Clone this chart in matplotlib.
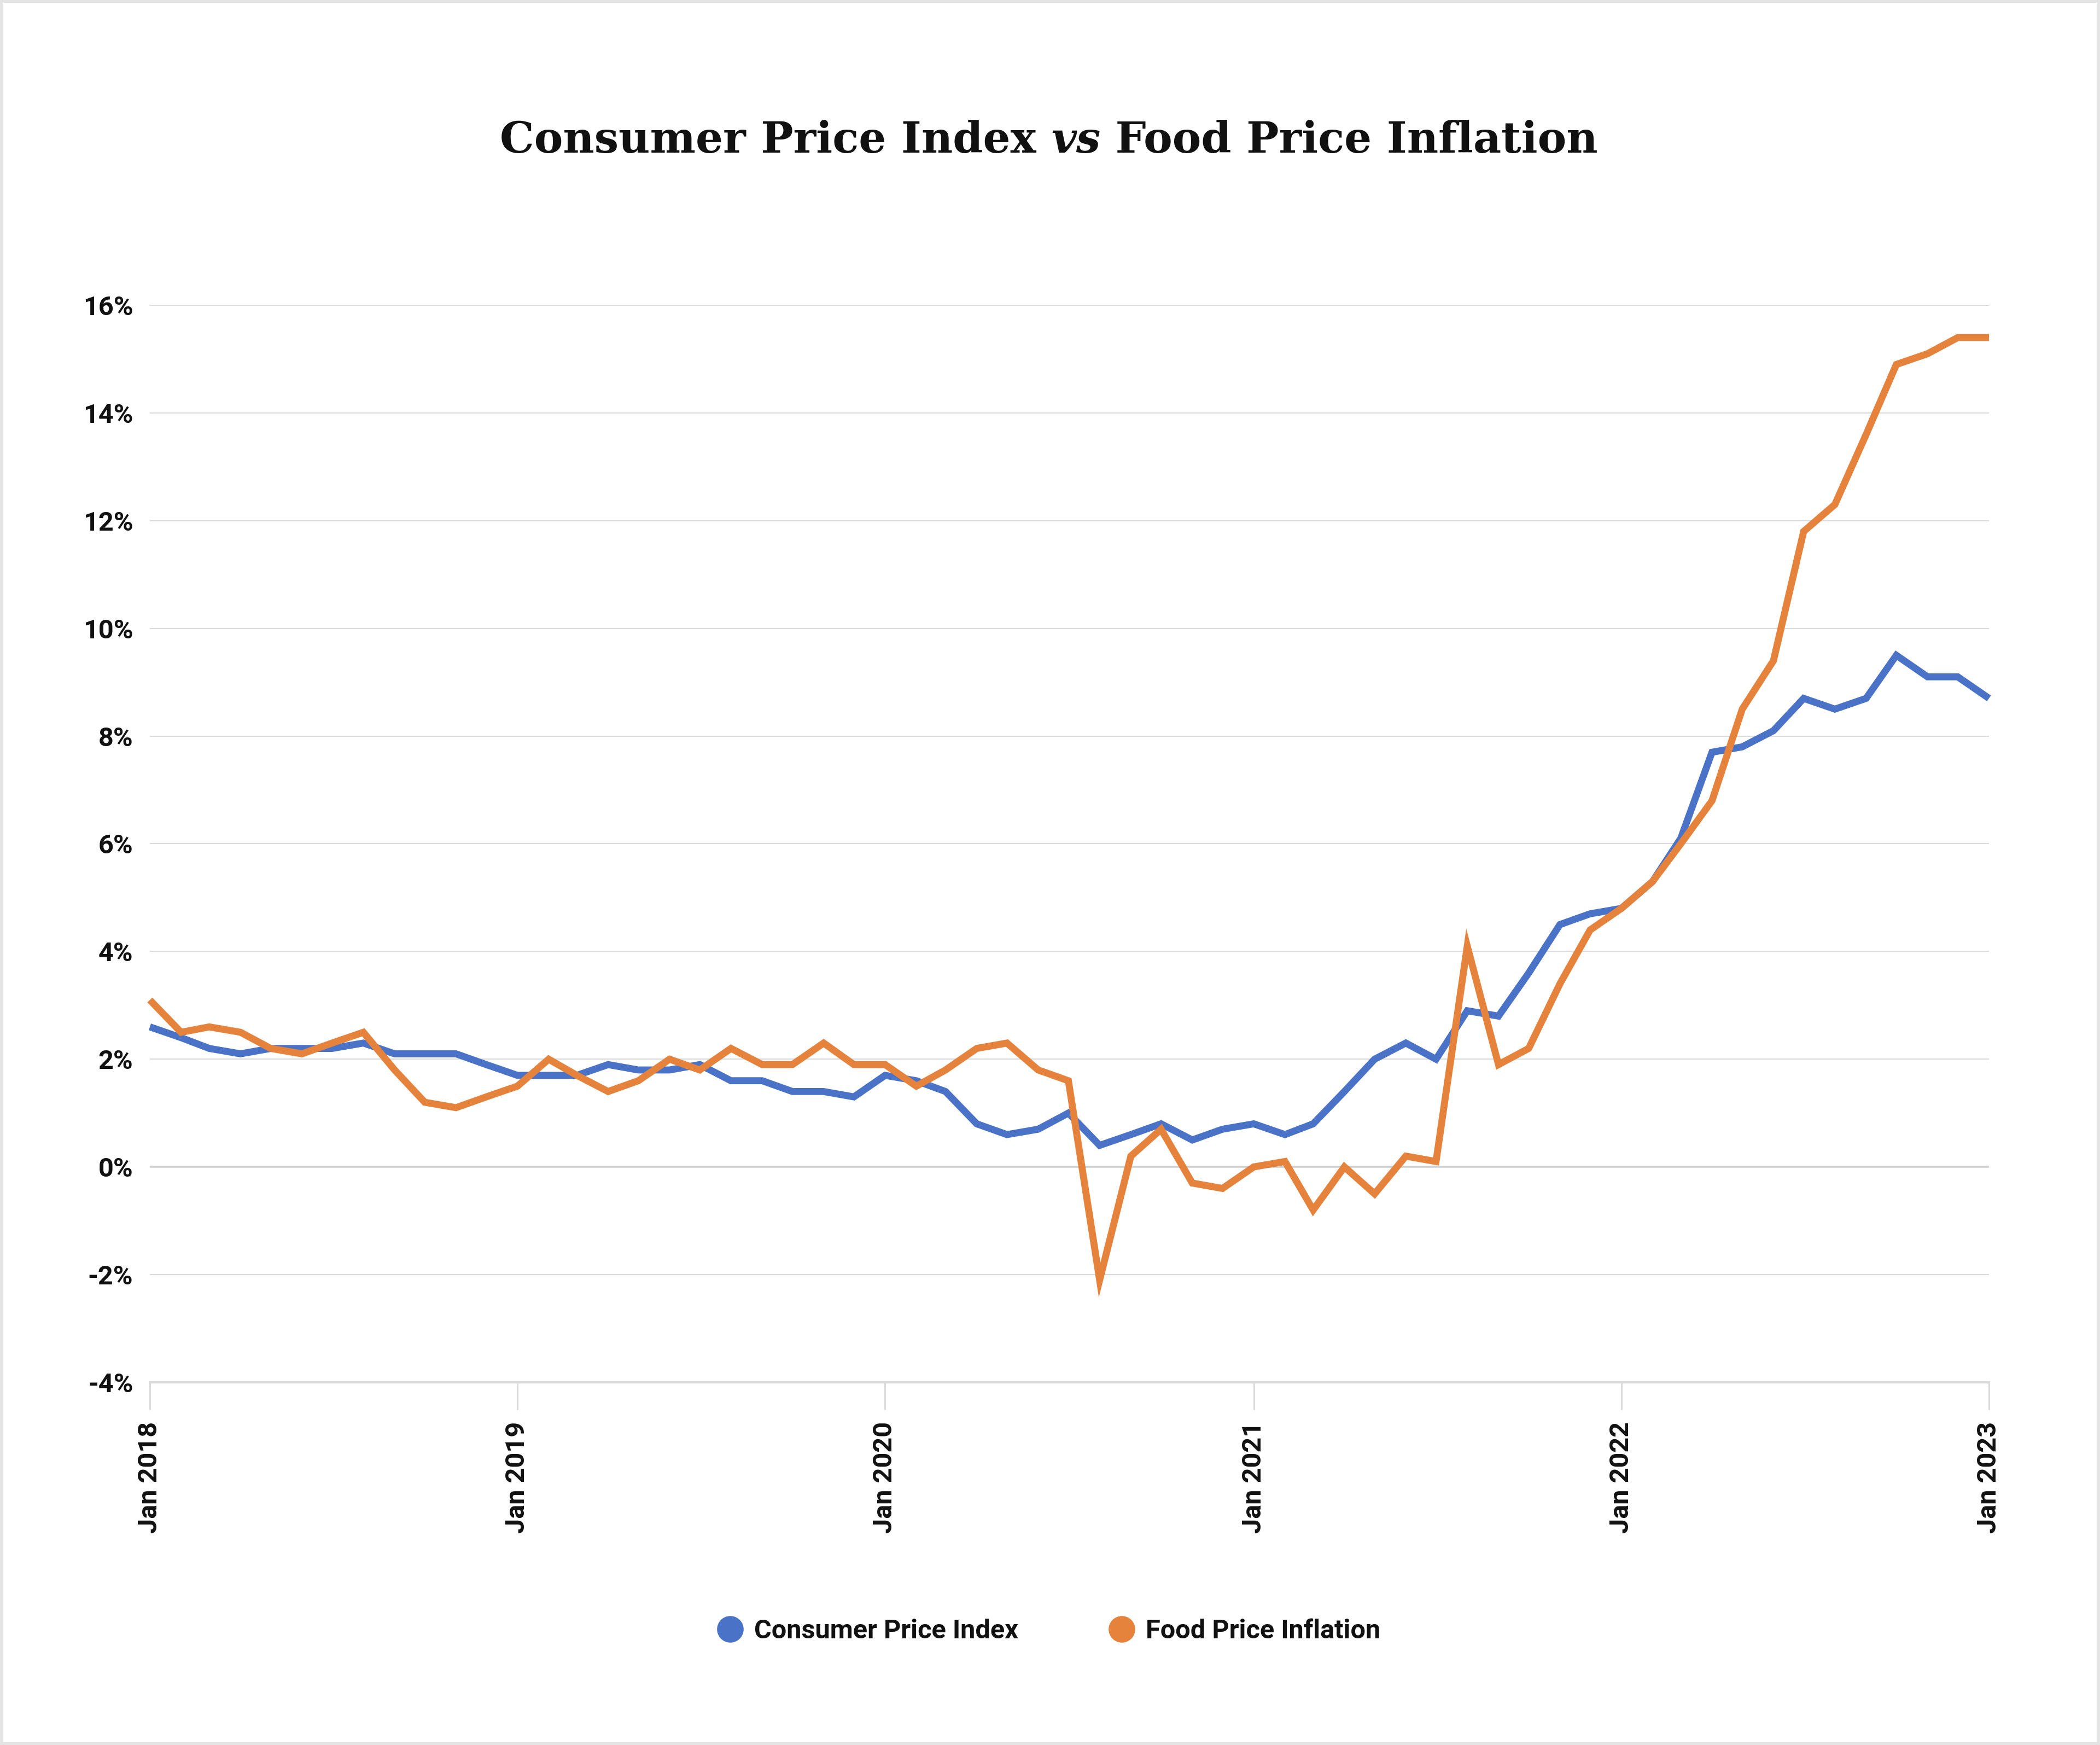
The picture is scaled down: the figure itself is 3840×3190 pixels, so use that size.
import matplotlib
matplotlib.use("Agg")
import matplotlib.pyplot as plt
from matplotlib.lines import Line2D
from matplotlib.patches import Rectangle
import pandas as pd

# ---------------- data ----------------
months = pd.date_range("2018-01-01", "2023-01-01", freq="MS")

cpi = [2.6, 2.4, 2.2, 2.1, 2.2, 2.2, 2.2, 2.3, 2.1, 2.1,
       2.1, 1.9, 1.7, 1.7, 1.7, 1.9, 1.8, 1.8, 1.9, 1.6,
       1.6, 1.4, 1.4, 1.3, 1.7, 1.6, 1.4, 0.8, 0.6, 0.7,
       1.0, 0.4, 0.6, 0.8, 0.5, 0.7, 0.8, 0.6, 0.8, 1.4,
       2.0, 2.3, 2.0, 2.9, 2.8, 3.6, 4.5, 4.7, 4.8, 5.3,
       6.1, 7.7, 7.8, 8.1, 8.7, 8.5, 8.7, 9.5, 9.1, 9.1,
       8.7]

food = [3.1, 2.5, 2.6, 2.5, 2.2, 2.1, 2.3, 2.5, 1.8, 1.2,
        1.1, 1.3, 1.5, 2.0, 1.7, 1.4, 1.6, 2.0, 1.8, 2.2,
        1.9, 1.9, 2.3, 1.9, 1.9, 1.5, 1.8, 2.2, 2.3, 1.8,
        1.6, -2.1, 0.2, 0.7, -0.3, -0.4, 0.0, 0.1, -0.8, 0.0,
        -0.5, 0.2, 0.1, 4.1, 1.9, 2.2, 3.4, 4.4, 4.8, 5.3,
        6.0, 6.8, 8.5, 9.4, 11.8, 12.3, 13.6, 14.9, 15.1, 15.4,
        15.4]

series_names = ["Consumer Price Index", "Food Price Inflation"]
series_colors = ["#4A72C6", "#E5823C"]
y_ticks = [-4, -2, 0, 2, 4, 6, 8, 10, 12, 14, 16]
x_tick_dates = pd.date_range("2018-01-01", "2023-01-01", freq="YS")
x_tick_labels = ["Jan 2018", "Jan 2019", "Jan 2020", "Jan 2021", "Jan 2022", "Jan 2023"]

title_parts = ["Consumer Price Index ", "vs", " Food Price Inflation"]

# ---------------- figure ----------------
W, H, DPI = 3840, 3190, 200
fig = plt.figure(figsize=(W / DPI, H / DPI), dpi=DPI)
fig.patch.set_facecolor("white")

ax = fig.add_axes([274 / W, 1 - 2527 / H, (3637 - 274) / W, (2527 - 558) / H])
ax.set_facecolor("white")

sans = ["Roboto", "DejaVu Sans"]
grid_c = "#dadada"
label_fs = 17.5

for vals, name, col in zip([cpi, food], series_names, series_colors):
    ax.plot(months, vals, color=col, lw=4.6, label=name,
            solid_joinstyle="miter", solid_capstyle="butt", clip_on=False, zorder=3)

ax.set_ylim(-4, 16)
ax.set_xlim(months[0], months[-1])
ax.set_yticks(y_ticks)
ax.set_yticklabels([f"{v}%" for v in y_ticks], fontfamily=sans, fontweight="bold",
                   fontsize=label_fs, color="#111111")
ax.tick_params(axis="y", length=0, pad=11)

ax.set_xticks(x_tick_dates)
ax.set_xticklabels(x_tick_labels, rotation=90, fontfamily=sans, fontweight="bold",
                   fontsize=label_fs, color="#111111", va="top", ha="center")
ax.tick_params(axis="x", length=18, width=1.1, color=grid_c, pad=8)

# grid lines
for v in y_ticks:
    if v == -4:
        continue
    ax.axhline(v, color="#d2d2d2" if v == 0 else grid_c,
               lw=1.3 if v == 0 else 0.75, zorder=1)

for side in ["top", "right", "left"]:
    ax.spines[side].set_visible(False)
ax.spines["bottom"].set_color(grid_c)
ax.spines["bottom"].set_linewidth(1.5)

# ---------------- legend ----------------
handles = [Line2D([0], [0], marker="o", linestyle="none", markersize=16.5,
                  markerfacecolor=c, markeredgecolor=c) for c in series_colors]
leg = fig.legend(handles, series_names, loc="center", bbox_to_anchor=(0.5, 1 - 2982 / H),
                 ncol=2, frameon=False, handlelength=0.8, handletextpad=0.5,
                 columnspacing=3.5, prop={"family": sans, "weight": "bold", "size": 17.5})
for t in leg.get_texts():
    t.set_color("#111111")

# ---------------- title ----------------
fig.canvas.draw()
renderer = fig.canvas.get_renderer()
title_fs = 34
styles = ["normal", "italic", "normal"]
texts = []
for part, st in zip(title_parts, styles):
    t = fig.text(0, 0, part, fontfamily=["DejaVu Serif"], fontweight="bold",
                 fontstyle=st, fontsize=title_fs, color="#111111", va="baseline", ha="left")
    texts.append(t)
widths = [t.get_window_extent(renderer).width for t in texts]
target = 2008
scale = target / sum(widths)
for t in texts:
    t.set_fontsize(title_fs * scale)
fig.canvas.draw()
widths = [t.get_window_extent(renderer).width for t in texts]
x0 = 1918 - sum(widths) / 2
y_base = 1 - 279 / H
for t, w in zip(texts, widths):
    t.set_position((x0 / W, y_base))
    x0 += w

# ---------------- border ----------------
fig.add_artist(Rectangle((0, 0), 1, 1, transform=fig.transFigure, fill=False,
                         edgecolor="#e4e4e4", lw=3.6, zorder=10))

fig.savefig("out.png", dpi=DPI, facecolor="white")
